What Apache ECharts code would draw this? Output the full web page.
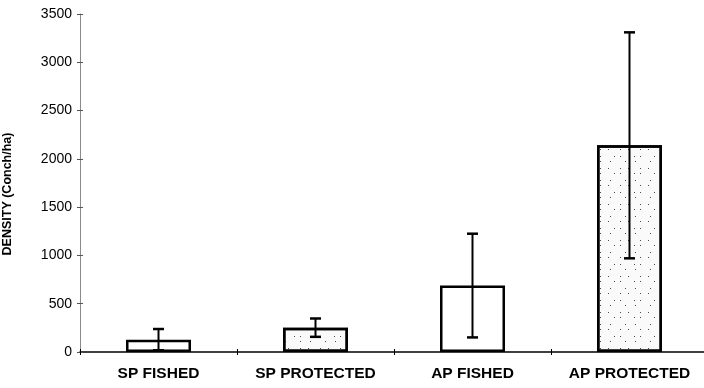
<!DOCTYPE html>
<html>
<head>
<meta charset="utf-8">
<script src="https://cdn.jsdelivr.net/npm/echarts@6/dist/echarts.min.js"></script>
<style>
html,body{margin:0;padding:0;background:#fff;}
#chart{width:704px;height:388px;}
</style>
</head>
<body>
<div id="chart"></div>
<script>
const categories = ['SP FISHED', 'SP PROTECTED', 'AP FISHED', 'AP PROTECTED'];
const densityMean = [128, 252, 688, 2140];
const densityErr = [110, 95, 537, 1170];
const stippled = [false, true, false, true];
const yMin = 0, yMax = 3500, yStep = 500;
const yAxisName = 'DENSITY (Conch/ha)';

const FONT = '"Liberation Sans", Arial, sans-serif';

const stippleDecal = {
  symbol: 'rect',
  symbolSize: 1,
  color: 'rgba(0,0,0,0.7)',
  dashArrayX: [[1, 7, 1, 11], [1, 13, 1, 5], [1, 9, 1, 14]],
  dashArrayY: [1, 4, 1, 6],
  rotation: 0
};

const barData = densityMean.map((v, i) => ({
  value: v,
  itemStyle: stippled[i]
    ? { color: '#fafafa', decal: stippleDecal }
    : { color: '#ffffff' }
}));

const errData = densityMean.map((v, i) => [i, v, densityErr[i]]);

function renderErr(params, api) {
  const x = api.value(0), m = api.value(1), e = api.value(2);
  const top = api.coord([x, m + e]);
  const bot = api.coord([x, m - e]);
  const hw = 5.5;
  const st = { stroke: '#000', lineWidth: 2 };
  const cap = { stroke: '#000', lineWidth: 2.5 };
  return {
    type: 'group',
    children: [
      { type: 'line', shape: { x1: top[0], y1: top[1], x2: bot[0], y2: bot[1] }, style: st },
      { type: 'line', shape: { x1: top[0] - hw, y1: top[1], x2: top[0] + hw, y2: top[1] }, style: cap },
      { type: 'line', shape: { x1: bot[0] - hw, y1: bot[1], x2: bot[0] + hw, y2: bot[1] }, style: cap }
    ]
  };
}

const chart = echarts.init(document.getElementById('chart'), null, { renderer: 'canvas' });
chart.setOption({
  backgroundColor: '#ffffff',
  animation: false,
  grid: { left: 80, right: -4, top: 14, bottom: 36, containLabel: false, outerBoundsMode: 'none' },
  xAxis: [
    {
      type: 'category',
      data: categories,
      axisLine: { show: true, lineStyle: { color: '#000', width: 1.5 } },
      axisTick: { show: true, length: 3, lineStyle: { color: '#000', width: 1 } },
      axisLabel: { color: '#000', fontFamily: FONT, fontWeight: 'bold', fontSize: 15.5, margin: 14, interval: 0, hideOverlap: false },
      splitLine: { show: false }
    },
    {
      type: 'category',
      data: categories,
      position: 'bottom',
      axisLine: { show: false },
      axisTick: { show: true, inside: true, length: 3, lineStyle: { color: '#000', width: 1 } },
      axisLabel: { show: false },
      splitLine: { show: false }
    }
  ],
  yAxis: [
    {
      type: 'value',
      min: yMin, max: yMax, interval: yStep,
      name: yAxisName,
      nameLocation: 'middle',
      nameGap: 66,
      nameTextStyle: { color: '#000', fontFamily: FONT, fontWeight: 'bold', fontSize: 12.5, padding: [0, 22, 0, 0] },
      axisLine: { show: true, lineStyle: { color: '#8a8a8a', width: 1 } },
      axisTick: { show: true, length: 3, lineStyle: { color: '#555' } },
      axisLabel: { color: '#000', fontFamily: FONT, fontSize: 14, margin: 8, formatter: v => String(v) },
      splitLine: { show: false }
    },
    {
      type: 'value',
      min: yMin, max: yMax, interval: yStep,
      position: 'left',
      axisLine: { show: false },
      axisTick: { show: true, inside: true, length: 3, lineStyle: { color: '#555' } },
      axisLabel: { show: false },
      splitLine: { show: false }
    }
  ],
  series: [
    {
      type: 'bar',
      data: barData,
      barWidth: 65,
      itemStyle: { borderColor: '#000', borderWidth: 2.5 },
      z: 2
    },
    {
      type: 'custom',
      data: errData,
      renderItem: renderErr,
      encode: { x: 0, y: 1 },
      z: 3
    }
  ]
});
</script>
</body>
</html>
